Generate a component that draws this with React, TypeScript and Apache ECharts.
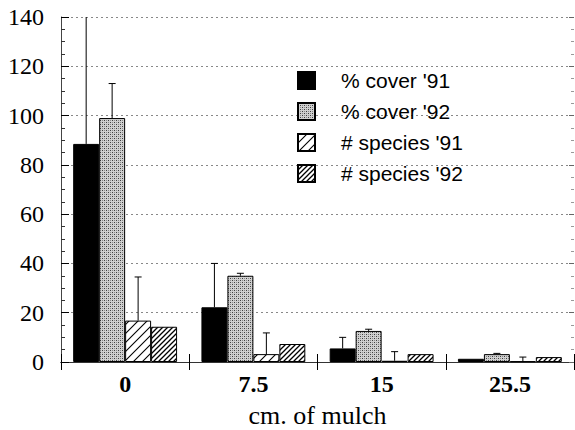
import React, { useEffect, useRef } from "react";
import * as echarts from "echarts";

const categories = ["0", "7.5", "15", "25.5"];
const seriesNames = ["% cover '91", "% cover '92", "# species '91", "# species '92"];
const cover91 = [88.5, 22.2, 5.5, 1.3];
const cover92 = [99, 35, 12.6, 3.2];
const species91 = [16.8, 3.2, 0.5, 0.3];
const species92 = [14.3, 7.3, 3.2, 2];
const cover91Err = [60, 17.8, 4.5, 0];
const cover92Err = [14, 1, 0.7, 0.3];
const species91Err = [17.7, 8.6, 3.7, 1.7];
const species92Err = [0, 0, 0, 0];
const yTicks = [0, 20, 40, 60, 80, 100, 120, 140];

const GAP = 0.19;

function makePattern(kind: string): HTMLCanvasElement {
  const c = document.createElement("canvas");
  if (kind === "stipple") {
    c.width = 4;
    c.height = 4;
    const g = c.getContext("2d")!;
    g.fillStyle = "#d0d0d0";
    g.fillRect(0, 0, 4, 4);
    g.fillStyle = "#404040";
    g.fillRect(0, 0, 1, 1);
    g.fillRect(2, 2, 1, 1);
    g.fillStyle = "#8a8a8a";
    g.fillRect(2, 0, 1, 1);
    g.fillRect(0, 2, 1, 1);
    return c;
  }
  const s = kind === "sparse" ? 9 : 5;
  c.width = s;
  c.height = s;
  const g = c.getContext("2d")!;
  g.fillStyle = "#fff";
  g.fillRect(0, 0, s, s);
  g.strokeStyle = "#000";
  g.lineWidth = kind === "sparse" ? 1.1 : 1.3;
  g.beginPath();
  g.moveTo(0, s);
  g.lineTo(s, 0);
  g.moveTo(-1, 1);
  g.lineTo(1, -1);
  g.moveTo(s - 1, s + 1);
  g.lineTo(s + 1, s - 1);
  g.stroke();
  return c;
}

export default function App() {
  const ref = useRef<HTMLDivElement>(null);
  useEffect(() => {
    document.body.style.margin = "0";
    const chart = echarts.init(ref.current!, null, { renderer: "svg" });
    const values = [cover91, cover92, species91, species92];
    const errs = [cover91Err, cover92Err, species91Err, species92Err];
    const fills: any[] = [
      "#000",
      { image: makePattern("stipple"), repeat: "repeat" },
      { image: makePattern("sparse"), repeat: "repeat" },
      { image: makePattern("dense"), repeat: "repeat" },
    ];
    const errData: number[][] = [];
    values.forEach((arr, si) => {
      arr.forEach((v, ci) => {
        if (errs[si][ci] > 0) errData.push([ci, v, v + errs[si][ci], si]);
      });
    });
    const serif = "'Liberation Serif', 'Times New Roman', 'DejaVu Serif', serif";
    chart.setOption({
      animation: false,
      grid: { left: 61, right: 1, top: 17, bottom: 68, outerBoundsMode: "none" },
      legend: {
        data: seriesNames,
        orient: "vertical",
        left: 292,
        top: 65,
        itemWidth: 17,
        itemHeight: 17,
        itemGap: 10,
        icon: "rect",
        textStyle: {
          fontFamily: "'Liberation Sans', Arial, sans-serif",
          fontSize: 21,
          color: "#000",
          padding: [0, 0, 0, 21],
        },
      },
      xAxis: [
        {
          type: "category",
          data: categories,
          position: "bottom",
          axisLine: { show: true, lineStyle: { color: "#000", width: 1 } },
          axisTick: { show: true, inside: true, length: 8, lineStyle: { color: "#000" } },
          axisLabel: {
            fontFamily: serif,
            fontWeight: "bold",
            fontSize: 24,
            color: "#000",
            margin: 10,
          },
          name: "cm. of mulch",
          nameLocation: "middle",
          nameGap: 40,
          nameTextStyle: { fontFamily: serif, fontSize: 26, color: "#000" },
        },
        {
          type: "category",
          data: categories,
          position: "top",
          axisLine: { show: true, lineStyle: { color: "#333", width: 1 } },
          axisTick: { show: true, inside: true, length: 8, lineStyle: { color: "#000" } },
          axisLabel: { show: false },
        },
      ],
      yAxis: [
        {
          type: "value",
          min: 0,
          max: 140,
          interval: 20,
          position: "left",
          axisLine: { show: true, lineStyle: { color: "#444", width: 1 } },
          axisTick: { show: true, inside: true, length: 8, lineStyle: { color: "#000" } },
          minorTick: { show: true, splitNumber: 4, length: 4, lineStyle: { color: "#333" } },
          axisLabel: {
            fontFamily: serif,
            fontSize: 24,
            color: "#000",
            margin: 17,
            formatter: (v: number) => (yTicks.includes(v) ? String(v) : ""),
          },
          splitLine: {
            show: true,
            lineStyle: { color: "#888", type: [2, 3], width: 1 },
          },
        },
        {
          type: "value",
          min: 0,
          max: 140,
          interval: 20,
          position: "right",
          axisLine: { show: false },
          axisTick: { show: true, inside: true, length: 5, lineStyle: { color: "#666" } },
          minorTick: { show: true, splitNumber: 4, length: 3, lineStyle: { color: "#999" } },
          axisLabel: { show: false },
          splitLine: { show: false },
        },
      ],
      series: [
        ...values.map((arr, si) => ({
          name: seriesNames[si],
          type: "bar",
          data: arr,
          barGap: "0%",
          barCategoryGap: GAP * 100 + "%",
          itemStyle: { color: fills[si], borderColor: "#000", borderWidth: 1 },
          emphasis: { disabled: true },
        })),
        {
          name: "err",
          type: "custom",
          clip: true,
          data: errData,
          z: 5,
          renderItem: (params: any, api: any) => {
            const ci = api.value(0);
            const lo = api.value(1);
            const hi = api.value(2);
            const si = api.value(3);
            const band = api.size([1, 0])[0];
            const bw = (band * (1 - GAP)) / 4;
            const p0 = api.coord([ci, lo]);
            const p1 = api.coord([ci, hi]);
            const cx = p0[0] + (si - 1.5) * bw;
            const style = { stroke: "#000", lineWidth: 1 };
            return {
              type: "group",
              children: [
                { type: "line", shape: { x1: cx, y1: p0[1], x2: cx, y2: p1[1] }, style },
                { type: "line", shape: { x1: cx - 3.5, y1: p1[1], x2: cx + 3.5, y2: p1[1] }, style },
              ],
            };
          },
        },
      ],
    });
    return () => chart.dispose();
  }, []);
  return <div ref={ref} style={{ width: 575, height: 430 }} />;
}
